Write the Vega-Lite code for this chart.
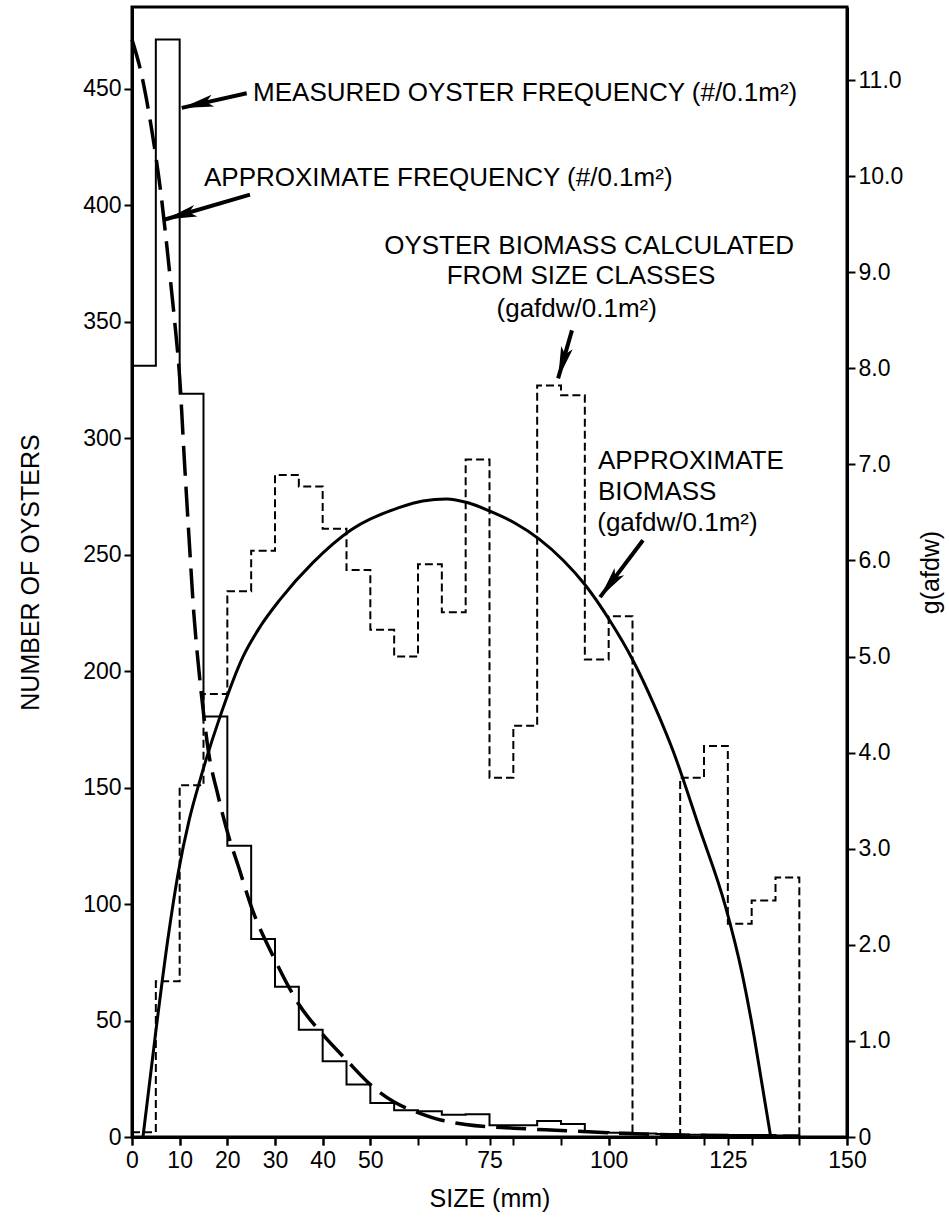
{
  "$schema": "https://vega.github.io/schema/vega-lite/v6.json",
  "width": 715,
  "height": 1130,
  "autosize": "none",
  "padding": {"left": 132, "top": 7, "right": 102, "bottom": 82},
  "background": "white",
  "config": {
    "view": {"stroke": "black", "strokeWidth": 3},
    "font": "Liberation Sans",
    "axis": {
      "domainColor": "black", "domainWidth": 3, "tickColor": "black", "tickWidth": 2, "tickSize": 8,
      "labelColor": "black", "titleColor": "black", "labelFont": "Liberation Sans", "titleFont": "Liberation Sans",
      "labelFontSize": 23, "titleFontSize": 25, "titleFontWeight": "normal", "grid": false,
      "labelOverlap": false, "labelFlush": false
    }
  },
  "datasets": {
    "measured": [
      {"size": 0, "count": 331}, {"size": 5, "count": 471}, {"size": 10, "count": 319}, {"size": 15, "count": 180.5},
      {"size": 20, "count": 125}, {"size": 25, "count": 85}, {"size": 30, "count": 64.5}, {"size": 35, "count": 46},
      {"size": 40, "count": 32.5}, {"size": 45, "count": 22.5}, {"size": 50, "count": 14.6}, {"size": 55, "count": 11.5},
      {"size": 60, "count": 11}, {"size": 65, "count": 9.5}, {"size": 70, "count": 9.8}, {"size": 75, "count": 5},
      {"size": 80, "count": 5}, {"size": 85, "count": 6.9}, {"size": 90, "count": 5.6}, {"size": 95, "count": 2.1},
      {"size": 100, "count": 1.8}, {"size": 105, "count": 1.5}, {"size": 110, "count": 1.3}, {"size": 115, "count": 1},
      {"size": 120, "count": 1}, {"size": 125, "count": 0.9}, {"size": 130, "count": 0.9}, {"size": 135, "count": 0.6},
      {"size": 140, "count": 0}
    ],
    "approxFreq": [
      {"size": 0, "count": 471}, {"size": 2, "count": 456}, {"size": 4, "count": 434}, {"size": 6, "count": 406},
      {"size": 8, "count": 369}, {"size": 9, "count": 349}, {"size": 10, "count": 326}, {"size": 11, "count": 290},
      {"size": 12, "count": 256}, {"size": 13, "count": 224}, {"size": 14, "count": 201}, {"size": 15, "count": 182},
      {"size": 16, "count": 166}, {"size": 18, "count": 147}, {"size": 20, "count": 131}, {"size": 22.5, "count": 115},
      {"size": 25, "count": 99}, {"size": 30, "count": 76}, {"size": 35, "count": 57}, {"size": 40, "count": 44},
      {"size": 45, "count": 33}, {"size": 50, "count": 22.5}, {"size": 55, "count": 15}, {"size": 60, "count": 10.5},
      {"size": 65, "count": 7.2}, {"size": 70, "count": 5.4}, {"size": 80, "count": 3.8}, {"size": 90, "count": 2.8},
      {"size": 100, "count": 1.8}, {"size": 110, "count": 1.1}, {"size": 120, "count": 0.7}, {"size": 130, "count": 0.4},
      {"size": 140, "count": 0.3}
    ],
    "biomassHist": [
      {"size": 0, "g": 0.05}, {"size": 5, "g": 1.62}, {"size": 10, "g": 3.66}, {"size": 15, "g": 4.61},
      {"size": 20, "g": 5.68}, {"size": 25, "g": 6.1}, {"size": 30, "g": 6.89}, {"size": 35, "g": 6.77},
      {"size": 40, "g": 6.33}, {"size": 45, "g": 5.9}, {"size": 50, "g": 5.28}, {"size": 55, "g": 5.0},
      {"size": 60, "g": 5.96}, {"size": 65, "g": 5.46}, {"size": 70, "g": 7.05}, {"size": 75, "g": 3.74},
      {"size": 80, "g": 4.28}, {"size": 85, "g": 7.82}, {"size": 90, "g": 7.72}, {"size": 95, "g": 4.97},
      {"size": 100, "g": 5.42}, {"size": 105, "g": 0}, {"size": 110, "g": 0}, {"size": 115, "g": 3.74},
      {"size": 120, "g": 4.07}, {"size": 125, "g": 2.22}, {"size": 130, "g": 2.46}, {"size": 135, "g": 2.7},
      {"size": 140, "g": 0}
    ],
    "biomassCurve": [
      {"size": 2.3, "g": 0}, {"size": 5, "g": 1.1}, {"size": 7.5, "g": 2.05}, {"size": 9.7, "g": 2.75},
      {"size": 12, "g": 3.3}, {"size": 14.3, "g": 3.72}, {"size": 18.5, "g": 4.38}, {"size": 23.3, "g": 5.0},
      {"size": 27, "g": 5.32}, {"size": 31, "g": 5.59}, {"size": 38, "g": 5.98},
      {"size": 46, "g": 6.32}, {"size": 56, "g": 6.55}, {"size": 61, "g": 6.62}, {"size": 66, "g": 6.64},
      {"size": 70.5, "g": 6.6}, {"size": 75.2, "g": 6.51}, {"size": 80.3, "g": 6.39}, {"size": 85.5, "g": 6.22},
      {"size": 90.5, "g": 6.0}, {"size": 95, "g": 5.75}, {"size": 100.3, "g": 5.37}, {"size": 105, "g": 4.97},
      {"size": 109.5, "g": 4.5}, {"size": 113.5, "g": 4.02}, {"size": 119, "g": 3.22}, {"size": 124.5, "g": 2.4},
      {"size": 128, "g": 1.7}, {"size": 130.5, "g": 1.05}, {"size": 132, "g": 0.6}, {"size": 134, "g": 0}
    ],
    "arrows": [
      {"id": "a1", "x": 24.06, "y": 448.0, "x2": 10.43, "y2": 441.7},
      {"id": "a2", "x": 24.75, "y": 404.5, "x2": 6.92, "y2": 393.8},
      {"id": "a3", "x": 92.3, "y": 346.2, "x2": 89.4, "y2": 325.6},
      {"id": "a4", "x": 107.2, "y": 256.1, "x2": 98.2, "y2": 231.7}
    ],
    "labelsLeft": [
      {"x": 25.4, "y": 448.3, "label": "MEASURED OYSTER FREQUENCY (#/0.1m²)"},
      {"x": 15.1, "y": 411.8, "label": "APPROXIMATE FREQUENCY (#/0.1m²)"},
      {"x": 97.75, "y": 290.0, "label": "APPROXIMATE"},
      {"x": 97.75, "y": 277.0, "label": "BIOMASS"},
      {"x": 97.6, "y": 263.6, "label": "(gafdw/0.1m²)"}
    ],
    "labelsCenter": [
      {"x": 95.9, "y": 382.3, "label": "OYSTER BIOMASS CALCULATED"},
      {"x": 94.2, "y": 369.5, "label": "FROM SIZE CLASSES"},
      {"x": 93.3, "y": 355.2, "label": "(gafdw/0.1m²)"}
    ]
  },
  "layer": [
    {
      "layer": [
        {
          "data": {"name": "measured"},
          "mark": {"type": "line", "interpolate": "step-after", "color": "black", "strokeWidth": 2},
          "encoding": {
            "x": {"field": "size", "type": "quantitative", "scale": {"domain": [0, 150], "nice": false},
              "axis": {"orient": "bottom", "title": null, "labels": false, "values": [0,5,10,15,20,25,30,35,40,45,50,55,60,65,70,75,80,85,90,95,100,105,110,115,120,125,130,135,140,145,150]}},
            "y": {"field": "count", "type": "quantitative", "scale": {"domain": [0, 485], "nice": false},
              "axis": {"orient": "left", "title": "NUMBER OF OYSTERS", "values": [0,50,100,150,200,250,300,350,400,450],
                "labelOverlap": false, "labelPadding": 3, "titleX": -102, "titleY": 565, "titleAngle": -90, "titleBaseline": "middle", "titleAlign": "center"}}
          }
        },
        {
          "data": {"name": "approxFreq"},
          "mark": {"type": "line", "interpolate": "monotone", "color": "black", "strokeWidth": 3.5, "strokeDash": [30, 11]},
          "encoding": {
            "x": {"field": "size", "type": "quantitative"},
            "y": {"field": "count", "type": "quantitative"}
          }
        },
        {
          "data": {"name": "arrows"},
          "mark": {"type": "rule", "color": "black", "strokeWidth": 4},
          "encoding": {
            "x": {"field": "x", "type": "quantitative"},
            "y": {"field": "y", "type": "quantitative"},
            "x2": {"field": "x2"},
            "y2": {"field": "y2"}
          }
        },
        {
          "data": {"name": "arrows"},
          "transform": [{"filter": "datum.id == 'a1'"}],
          "mark": {"type": "point", "shape": "M0,0L-3.2,-0.6L-2.5,0L-3.2,0.6Z", "filled": true, "color": "black", "opacity": 1, "size": 400, "angle": 167},
          "encoding": {
            "x": {"field": "x2", "type": "quantitative"},
            "y": {"field": "y2", "type": "quantitative"}
          }
        },
        {
          "data": {"name": "arrows"},
          "transform": [{"filter": "datum.id == 'a2'"}],
          "mark": {"type": "point", "shape": "M0,0L-3.2,-0.6L-2.5,0L-3.2,0.6Z", "filled": true, "color": "black", "opacity": 1, "size": 400, "angle": 164},
          "encoding": {
            "x": {"field": "x2", "type": "quantitative"},
            "y": {"field": "y2", "type": "quantitative"}
          }
        },
        {
          "data": {"name": "arrows"},
          "transform": [{"filter": "datum.id == 'a3'"}],
          "mark": {"type": "point", "shape": "M0,0L-3.2,-0.6L-2.5,0L-3.2,0.6Z", "filled": true, "color": "black", "opacity": 1, "size": 400, "angle": 106},
          "encoding": {
            "x": {"field": "x2", "type": "quantitative"},
            "y": {"field": "y2", "type": "quantitative"}
          }
        },
        {
          "data": {"name": "arrows"},
          "transform": [{"filter": "datum.id == 'a4'"}],
          "mark": {"type": "point", "shape": "M0,0L-3.2,-0.6L-2.5,0L-3.2,0.6Z", "filled": true, "color": "black", "opacity": 1, "size": 400, "angle": 127},
          "encoding": {
            "x": {"field": "x2", "type": "quantitative"},
            "y": {"field": "y2", "type": "quantitative"}
          }
        },
        {
          "data": {"name": "labelsLeft"},
          "mark": {"type": "text", "align": "left", "baseline": "middle", "fontSize": 26, "font": "Liberation Sans", "color": "black"},
          "encoding": {
            "x": {"field": "x", "type": "quantitative"},
            "y": {"field": "y", "type": "quantitative"},
            "text": {"field": "label"}
          }
        },
        {
          "data": {"name": "labelsCenter"},
          "mark": {"type": "text", "align": "center", "baseline": "middle", "fontSize": 26, "font": "Liberation Sans", "color": "black"},
          "encoding": {
            "x": {"field": "x", "type": "quantitative"},
            "y": {"field": "y", "type": "quantitative"},
            "text": {"field": "label"}
          }
        }
      ]
    },
    {
      "layer": [
        {
          "data": {"name": "biomassHist"},
          "mark": {"type": "line", "interpolate": "step-after", "color": "black", "strokeWidth": 2, "strokeDash": [8, 4]},
          "encoding": {
            "x": {"field": "size", "type": "quantitative", "scale": {"domain": [0, 150], "nice": false},
              "axis": {"orient": "bottom", "title": "SIZE (mm)", "values": [0,10,20,30,40,50,75,100,125,150],
                "labelOverlap": false, "labelFlush": false, "labelPadding": 4, "titlePadding": 14}},
            "y": {"field": "g", "type": "quantitative", "scale": {"domain": [0, 11.76], "nice": false},
              "axis": {"orient": "right", "title": "g(afdw)", "values": [0,1,2,3,4,5,6,7,8,9,10,11],
                "labelExpr": "datum.value == 0 ? '0' : format(datum.value, '.1f')",
                "labelOverlap": false, "labelPadding": 3, "titleX": 83, "titleY": 565, "titleAngle": -90, "titleBaseline": "middle", "titleAlign": "center"}}
          }
        },
        {
          "data": {"name": "biomassCurve"},
          "mark": {"type": "line", "interpolate": "monotone", "color": "black", "strokeWidth": 3},
          "encoding": {
            "x": {"field": "size", "type": "quantitative"},
            "y": {"field": "g", "type": "quantitative"}
          }
        }
      ]
    }
  ],
  "resolve": {"scale": {"x": "independent", "y": "independent"}, "axis": {"x": "independent", "y": "independent"}}
}
